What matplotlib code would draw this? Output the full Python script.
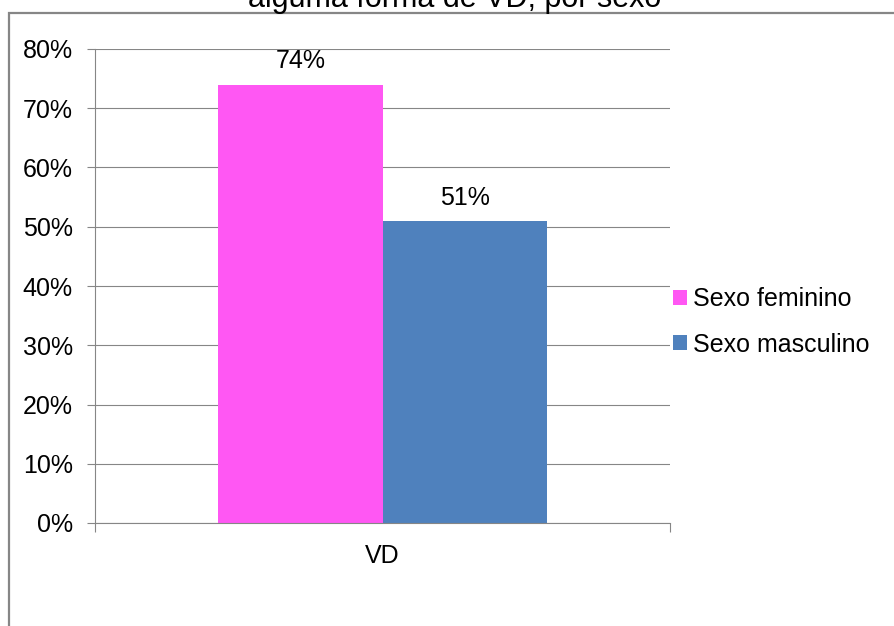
import numpy as np
import matplotlib
matplotlib.use("Agg")
import matplotlib.pyplot as plt
from matplotlib.patches import Patch, Rectangle
from matplotlib.ticker import PercentFormatter

# data
categories = ['VD']
series = ['Sexo feminino', 'Sexo masculino']
values = [0.74, 0.51]
colors = ['#FF57F3', '#4F81BD']
title = 'alguma forma de VD, por sexo'

plt.rcParams['font.family'] = ['Liberation Sans', 'DejaVu Sans']

W, H = 894, 626
fig = plt.figure(figsize=(W / 100, H / 100), dpi=100)

# outer chart frame (cut off on the right and bottom)
fig.patches.append(Rectangle((9 / W, -0.1), 1.2, 1 - 13 / H + 0.1,
                             transform=fig.transFigure, fill=False,
                             edgecolor='#868686', linewidth=1.6))
fig.text(455 / W, 1 - 7 / H, title, ha='center', va='baseline',
         fontsize=22, color='black')

ax = fig.add_axes([95 / W, (H - 523) / H, (670 - 95) / W, (523 - 49) / H])

bw = 0.286
x = np.arange(len(categories))
for i, (name, v) in enumerate(zip(series, values)):
    off = (i - 0.5) * bw
    bars = ax.bar(x + off, [v], width=bw, color=colors[i], label=name)
    ax.bar_label(bars, labels=['%d%%' % round(v * 100)], padding=8, fontsize=18)

ax.set_xlim(-0.5, len(categories) - 0.5)
ax.set_ylim(0, 0.8)
ax.set_yticks(np.arange(0, 0.81, 0.1))
ax.yaxis.set_major_formatter(PercentFormatter(1.0, decimals=0))
ax.tick_params(axis='y', length=6, width=0.8, color='#868686', pad=10,
               labelsize=18)

# category boundaries get tick marks, label sits in the middle
ax.set_xticks([-0.5, len(categories) - 0.5])
ax.set_xticklabels(['', ''])
ax.tick_params(axis='x', which='major', length=6.5, width=0.8, color='#868686')
ax.set_xticks(x, minor=True)
ax.set_xticklabels(categories, minor=True)
ax.tick_params(axis='x', which='minor', length=0, pad=15, labelsize=18)

ax.grid(axis='y', color='#868686', linewidth=0.8)
ax.set_axisbelow(True)
for s in ['top', 'right']:
    ax.spines[s].set_visible(False)
for s in ['left', 'bottom']:
    ax.spines[s].set_color('#868686')
    ax.spines[s].set_linewidth(0.8)

handles = [Patch(facecolor=c, edgecolor='none') for c in colors]
fig.legend(handles, series, loc='center left',
           bbox_to_anchor=(673 / W, 1 - 322 / H), frameon=False,
           fontsize=18, handlelength=0.56, handleheight=0.56,
           handletextpad=0.25, labelspacing=0.85, borderpad=0,
           borderaxespad=0)

fig.savefig('out.png', dpi=100)
